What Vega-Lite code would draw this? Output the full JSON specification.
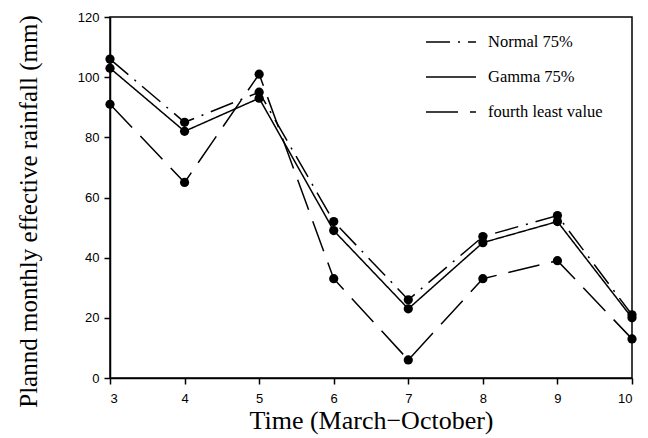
{
  "$schema": "https://vega.github.io/schema/vega-lite/v6.json",
  "width": 522,
  "height": 361,
  "autosize": {"type": "none"},
  "padding": {"left": 110, "top": 17, "right": 16, "bottom": 60},
  "background": "white",
  "config": {
    "view": {"stroke": "black", "strokeWidth": 1.5},
    "axis": {
      "domainColor": "black", "domainWidth": 1.5, "tickColor": "black", "tickWidth": 1.5, "tickSize": 6,
      "labelFont": "Liberation Sans", "labelFontSize": 13, "labelColor": "black",
      "titleFont": "Liberation Serif", "titleFontWeight": "normal", "titleColor": "black",
      "grid": false
    }
  },
  "data": {
    "values": [
      {"month": 3, "value": 106, "series": "Normal 75%"},
      {"month": 4, "value": 85, "series": "Normal 75%"},
      {"month": 5, "value": 95, "series": "Normal 75%"},
      {"month": 6, "value": 52, "series": "Normal 75%"},
      {"month": 7, "value": 26, "series": "Normal 75%"},
      {"month": 8, "value": 47, "series": "Normal 75%"},
      {"month": 9, "value": 54, "series": "Normal 75%"},
      {"month": 10, "value": 21, "series": "Normal 75%"},
      {"month": 3, "value": 103, "series": "Gamma 75%"},
      {"month": 4, "value": 82, "series": "Gamma 75%"},
      {"month": 5, "value": 93, "series": "Gamma 75%"},
      {"month": 6, "value": 49, "series": "Gamma 75%"},
      {"month": 7, "value": 23, "series": "Gamma 75%"},
      {"month": 8, "value": 45, "series": "Gamma 75%"},
      {"month": 9, "value": 52, "series": "Gamma 75%"},
      {"month": 10, "value": 20, "series": "Gamma 75%"},
      {"month": 3, "value": 91, "series": "fourth least value"},
      {"month": 4, "value": 65, "series": "fourth least value"},
      {"month": 5, "value": 101, "series": "fourth least value"},
      {"month": 6, "value": 33, "series": "fourth least value"},
      {"month": 7, "value": 6, "series": "fourth least value"},
      {"month": 8, "value": 33, "series": "fourth least value"},
      {"month": 9, "value": 39, "series": "fourth least value"},
      {"month": 10, "value": 13, "series": "fourth least value"}
    ]
  },
  "encoding": {
    "x": {
      "field": "month", "type": "quantitative",
      "scale": {"domain": [3, 10], "nice": false, "zero": false},
      "axis": {"values": [3, 4, 5, 6, 7, 8, 9, 10], "format": "d", "title": "Time (March−October)", "titleFontSize": 26, "titleBaseline": "alphabetic", "titleY": 50, "labelPadding": 8}
    },
    "y": {
      "field": "value", "type": "quantitative",
      "scale": {"domain": [0, 120], "nice": false},
      "axis": {"values": [0, 20, 40, 60, 80, 100, 120], "title": "Plannd monthly effective rainfall (mm)", "titleFontSize": 25, "titleX": -69, "titleY": 194, "labelPadding": 5}
    }
  },
  "layer": [
    {
      "mark": {"type": "line", "color": "black", "strokeWidth": 1.5},
      "encoding": {
        "strokeDash": {
          "field": "series", "type": "nominal",
          "scale": {"domain": ["Normal 75%", "Gamma 75%", "fourth least value"], "range": [[24, 8, 2, 8], [1, 0], [32, 12]]},
          "legend": {
            "title": null, "orient": "none", "legendX": 315, "legendY": -1,
            "labelFont": "Liberation Serif", "labelFontSize": 16.5, "labelColor": "black",
            "symbolSize": 2500, "symbolStrokeColor": "black", "symbolStrokeWidth": 1.5,
            "rowPadding": -28, "labelOffset": 11
          }
        }
      }
    },
    {
      "mark": {"type": "point", "filled": true, "color": "black", "opacity": 1, "size": 85}
    }
  ]
}
